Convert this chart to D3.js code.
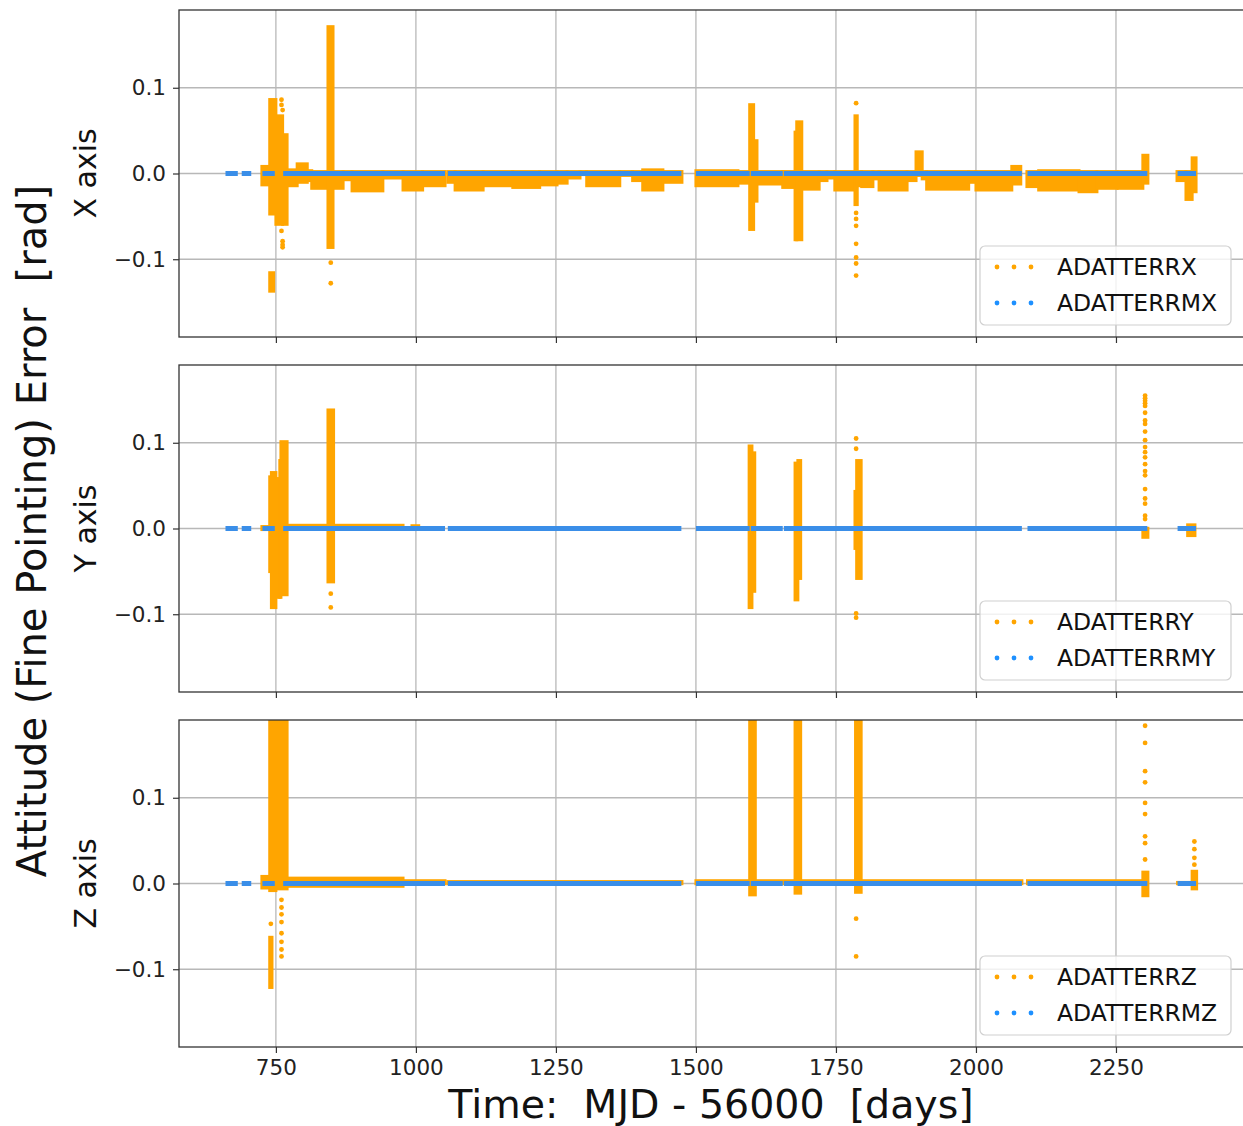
<!DOCTYPE html>
<html>
<head>
<meta charset="utf-8">
<script src="https://cdn.jsdelivr.net/npm/d3@7"></script>
<style>
body { margin: 0; background: #fff; }
svg { display: block; font-family: "DejaVu Sans", sans-serif; }
</style>
</head>
<body>
<svg id="chart" width="1243" height="1126"></svg>
<script>
// data (days = MJD - 56000, values in rad)
const tickDays = [750, 1000, 1250, 1500, 1750, 2000, 2250];
const tickErr = [-0.1, 0.0, 0.1];
const panelNames = ["X axis", "Y axis", "Z axis"];
const errNames = ["ADATTERRX", "ADATTERRY", "ADATTERRZ"];
const meanNames = ["ADATTERRMX", "ADATTERRMY", "ADATTERRMZ"];

// blue series: sits on zero, only the time coverage shows
const meanSegments = [[660, 682], [689, 706], [726, 748], [763, 1052], [1057, 1474],
  [1500, 1596], [1598, 1655], [1657, 2082], [2092, 2306], [2360, 2393]];

// orange series, dense columns: [t0, t1, low, high]
const errXBands = [
  [725, 739, -0.015, 0.010], [739, 750, -0.049, 0.088], [739, 746, -0.139, -0.114],
  [750, 762, -0.061, 0.069], [762, 770, -0.061, 0.047], [770, 788, -0.016, 0.006],
  [788, 806, -0.012, 0.013], [806, 814, -0.010, 0.005], [814, 843, -0.019, 0.004],
  [843, 852, -0.088, 0.173], [852, 870, -0.019, 0.004], [870, 886, -0.009, 0.004],
  [886, 941, -0.022, 0.004], [941, 977, -0.007, 0.004], [977, 1012, -0.021, 0.004],
  [1012, 1052, -0.016, 0.004], [1057, 1070, -0.012, 0.004], [1070, 1120, -0.021, 0.004],
  [1120, 1173, -0.016, 0.004], [1173, 1221, -0.018, 0.004], [1221, 1252, -0.015, 0.004],
  [1252, 1270, -0.013, 0.004], [1270, 1293, -0.007, 0.004], [1293, 1305, -0.003, 0.004],
  [1305, 1364, -0.016, 0.004], [1364, 1387, -0.004, 0.004], [1387, 1405, -0.010, 0.004],
  [1405, 1441, -0.021, 0.006], [1441, 1475, -0.012, 0.004], [1500, 1575, -0.016, 0.005],
  [1575, 1596, -0.013, 0.004], [1596, 1603, -0.067, 0.082], [1603, 1609, -0.034, 0.040],
  [1609, 1655, -0.014, 0.004], [1655, 1677, -0.018, 0.004], [1677, 1680, -0.079, 0.050],
  [1680, 1689, -0.079, 0.062], [1689, 1720, -0.020, 0.004], [1720, 1734, -0.010, 0.004],
  [1734, 1748, -0.007, 0.004], [1748, 1784, -0.021, 0.004], [1784, 1788, -0.038, 0.069],
  [1788, 1796, -0.016, 0.004], [1796, 1816, -0.017, 0.004], [1816, 1827, -0.008, 0.004],
  [1827, 1877, -0.021, 0.004], [1877, 1893, -0.010, 0.004], [1893, 1904, -0.004, 0.027],
  [1904, 1912, -0.008, 0.004], [1912, 1987, -0.020, 0.004], [1987, 2000, -0.012, 0.004],
  [2000, 2064, -0.021, 0.004], [2064, 2080, -0.014, 0.010], [2091, 2112, -0.017, 0.004],
  [2112, 2184, -0.021, 0.005], [2184, 2216, -0.023, 0.004], [2216, 2252, -0.019, 0.004],
  [2254, 2298, -0.019, 0.004], [2298, 2307, -0.013, 0.023], [2359, 2375, -0.010, 0.004],
  [2375, 2386, -0.032, 0.004], [2386, 2393, -0.023, 0.020]
];
const errXPoints = [
  [760, 0.086], [760, 0.080], [762, 0.074], [760, -0.067], [762, -0.079], [762, -0.083],
  [762, -0.086], [848, -0.104], [848, -0.128], [1786, 0.082], [1786, -0.046], [1786, -0.053],
  [1786, -0.061], [1786, -0.082], [1786, -0.098], [1786, -0.105], [1786, -0.119]
];

const errYBands = [
  [725, 739, -0.003, 0.004], [739, 742, -0.052, 0.062], [742, 750, -0.094, 0.067],
  [750, 757, -0.082, 0.060], [757, 759, -0.082, 0.081], [759, 770, -0.079, 0.103],
  [770, 977, 0.000, 0.0055], [843, 853, -0.064, 0.140], [993, 1005, 0.000, 0.005],
  [1595, 1600, -0.094, 0.098], [1600, 1605, -0.075, 0.090], [1677, 1682, -0.085, 0.078],
  [1682, 1687, -0.060, 0.081], [1784, 1787, -0.025, 0.045], [1787, 1795, -0.060, 0.081],
  [2298, 2307, -0.012, 0.002], [2378, 2391, -0.010, 0.006]
];
const errYPoints = [
  [848, -0.076], [848, -0.092], [1786, 0.105], [1786, 0.093], [1786, -0.099], [1786, -0.104],
  [2302, 0.155], [2302, 0.152], [2302, 0.149], [2302, 0.146], [2302, 0.143], [2302, 0.135],
  [2302, 0.126], [2302, 0.122], [2302, 0.113], [2302, 0.103], [2302, 0.095], [2302, 0.089],
  [2302, 0.083], [2302, 0.075], [2302, 0.067], [2302, 0.062], [2302, 0.046], [2302, 0.035],
  [2302, 0.029], [2302, 0.015], [2302, 0.011]
];

const errZBands = [
  [725, 739, -0.007, 0.010], [739, 750, -0.010, 0.250], [739, 743, -0.123, -0.061],
  [750, 770, -0.008, 0.250], [770, 977, -0.005, 0.008], [977, 1052, -0.002, 0.005],
  [1057, 1475, -0.002, 0.004], [1500, 1596, -0.002, 0.005], [1596, 1606, -0.015, 0.250],
  [1606, 1677, -0.002, 0.005], [1677, 1687, -0.013, 0.250], [1687, 1785, -0.002, 0.005],
  [1785, 1795, -0.012, 0.250], [1795, 2082, -0.002, 0.005], [2092, 2298, -0.002, 0.005],
  [2298, 2307, -0.016, 0.015], [2360, 2386, -0.002, 0.003], [2386, 2394, -0.008, 0.016]
];
const errZPoints = [
  [741, -0.047], [760, -0.019], [760, -0.028], [760, -0.036], [760, -0.045], [760, -0.058],
  [760, -0.068], [760, -0.077], [760, -0.085], [1786, -0.041], [1786, -0.085],
  [2302, 0.184], [2302, 0.164], [2302, 0.131], [2302, 0.118], [2302, 0.094], [2302, 0.081],
  [2302, 0.055], [2302, 0.047], [2302, 0.028],
  [2390, 0.049], [2390, 0.040], [2390, 0.030], [2390, 0.022]
];

const allBands = [errXBands, errYBands, errZBands];
const allPoints = [errXPoints, errYPoints, errZPoints];

// layout
const ORANGE = "#ffa500";
const BLUE = "#1e90ff";
const left = 179, right = 1244;
const panelTops = [10, 365, 720];
const panelH = 327;
const pad = 1.5; // half a marker: columns of dots are a bit wider than their time span

const svg = d3.select("#chart");
const x = d3.scaleLinear().domain([577, 2478.6]).range([left, right]);

panelTops.forEach((top, i) => {
  const y = d3.scaleLinear().domain([-0.1907, 0.1907]).range([top + panelH, top]);
  const g = svg.append("g");

  const clipId = "clip" + i;
  svg.append("clipPath").attr("id", clipId)
    .append("rect").attr("x", left).attr("y", top).attr("width", right - left).attr("height", panelH);

  // grid
  g.selectAll(".vgrid").data(tickDays).enter().append("line")
    .attr("x1", d => x(d)).attr("x2", d => x(d))
    .attr("y1", top).attr("y2", top + panelH)
    .attr("stroke", "#b8b8b8").attr("stroke-width", 1.3);
  g.selectAll(".hgrid").data(tickErr).enter().append("line")
    .attr("x1", left).attr("x2", right)
    .attr("y1", d => y(d)).attr("y2", d => y(d))
    .attr("stroke", "#b8b8b8").attr("stroke-width", 1.3);

  const data = g.append("g").attr("clip-path", `url(#${clipId})`);

  // orange series
  data.selectAll(".band").data(allBands[i]).enter().append("rect")
    .attr("x", d => x(d[0]) - pad)
    .attr("width", d => x(d[1]) - x(d[0]) + 2 * pad)
    .attr("y", d => y(d[3]))
    .attr("height", d => Math.max(2, y(d[2]) - y(d[3])))
    .attr("fill", ORANGE);
  data.selectAll(".pt").data(allPoints[i]).enter().append("circle")
    .attr("cx", d => x(d[0])).attr("cy", d => y(d[1])).attr("r", 2.4)
    .attr("fill", ORANGE);

  // blue series on top
  data.selectAll(".mean").data(meanSegments).enter().append("line")
    .attr("x1", d => x(d[0])).attr("x2", d => x(d[1]))
    .attr("y1", y(0)).attr("y2", y(0))
    .attr("stroke", "#3a8ee8").attr("stroke-width", 5);

  // frame
  g.append("rect").attr("x", left).attr("y", top)
    .attr("width", right - left).attr("height", panelH)
    .attr("fill", "none").attr("stroke", "#333").attr("stroke-width", 1.3);

  // axes
  const ya = g.append("g").attr("transform", `translate(${left},0)`)
    .call(d3.axisLeft(y).tickValues(tickErr).tickFormat(d3.format(".1f")).tickSize(6).tickPadding(7));
  ya.select(".domain").remove();
  ya.selectAll("text").attr("font-size", "21.5px").attr("font-family", "DejaVu Sans").attr("fill", "#222");
  ya.selectAll("line").attr("stroke", "#333").attr("stroke-width", 1.2);

  const xa = g.append("g").attr("transform", `translate(0,${top + panelH})`)
    .call(d3.axisBottom(x).tickValues(tickDays).tickSize(6).tickPadding(7).tickFormat(d3.format("d")));
  xa.select(".domain").remove();
  xa.selectAll("line").attr("stroke", "#333").attr("stroke-width", 1.2);
  xa.selectAll("text").attr("font-size", "21.5px").attr("font-family", "DejaVu Sans").attr("fill", "#222");
  if (i < 2) xa.selectAll("text").remove();

  // panel label
  svg.append("text")
    .attr("transform", `translate(96,${top + panelH / 2}) rotate(-90)`)
    .attr("text-anchor", "middle")
    .attr("font-size", "30px").attr("fill", "#111")
    .text(panelNames[i]);

  // legend
  const lg = svg.append("g").attr("transform", `translate(980,${top + panelH - 12 - 79})`);
  lg.append("rect").attr("width", 251).attr("height", 79).attr("rx", 5)
    .attr("fill", "#fff").attr("fill-opacity", 0.8)
    .attr("stroke", "#d0d0d0").attr("stroke-width", 1.2);
  [[errNames[i], ORANGE, 21], [meanNames[i], BLUE, 57]].forEach(([name, col, ry]) => {
    [17, 34, 51].forEach(dx => {
      lg.append("circle").attr("cx", dx).attr("cy", ry).attr("r", 2.4).attr("fill", col);
    });
    lg.append("text").attr("x", 77).attr("y", ry).attr("dy", "0.35em")
      .attr("font-size", "23.5px").attr("fill", "#111").text(name);
  });
});

// overall labels
svg.append("text")
  .attr("transform", `translate(46,531) rotate(-90)`)
  .attr("text-anchor", "middle")
  .attr("font-size", "40px").attr("fill", "#111")
  .text("Attitude (Fine Pointing) Error\u00a0\u00a0[rad]");

svg.append("text")
  .attr("x", 711).attr("y", 1118)
  .attr("text-anchor", "middle")
  .attr("font-size", "39.5px").attr("fill", "#111")
  .text("Time:\u00a0\u00a0MJD - 56000\u00a0\u00a0[days]");
</script>
</body>
</html>
